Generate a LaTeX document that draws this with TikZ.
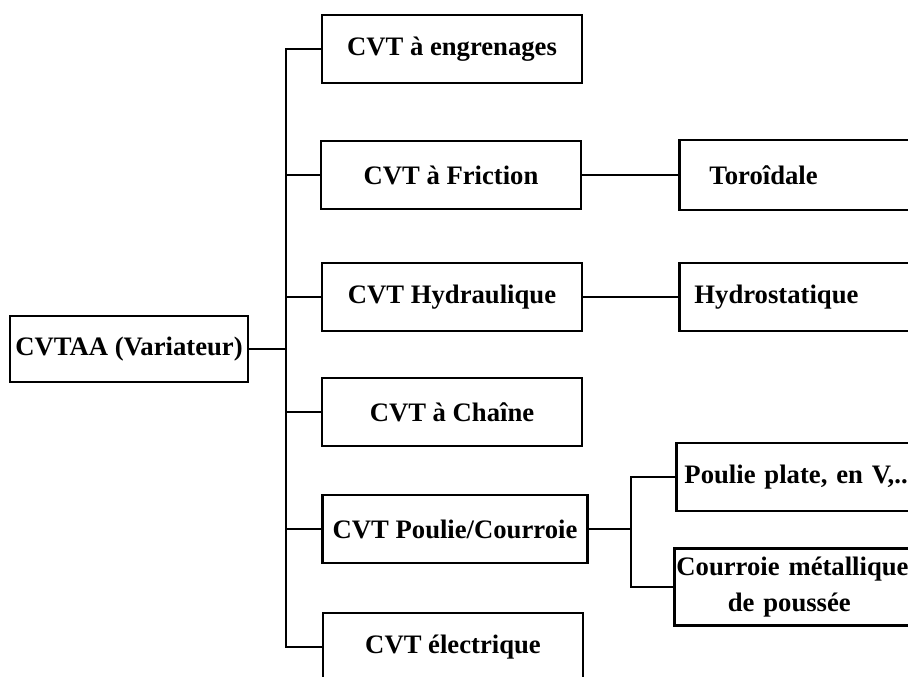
\documentclass[tikz,border=0pt]{standalone}
\usepackage{fontspec}
\setmainfont{Liberation Serif}
\usepackage{tikz}
\frenchspacing

\begin{document}
\begin{tikzpicture}[x=0.75pt,y=-0.75pt,line width=1.5pt,font=\bfseries\fontsize{20}{27}\selectfont,root node/.style={draw,line width=2.2pt,minimum width=178.5pt,minimum height=49.5pt,inner sep=0pt},main node/.style={draw,line width=2.2pt,minimum width=195pt,minimum height=51pt,inner sep=0pt},sub node/.style={draw,line width=2.2pt,anchor=west,minimum width=202.5pt,minimum height=51pt,text width=196.5pt,inner xsep=3pt,inner ysep=0pt,align=left}]
    \useasboundingbox (0,0) rectangle (908,677);
    \clip (0,0) rectangle (908,677);
    \node[root node] (0) at (129,349) {CVTAA (Variateur)};
    \node[main node] (1) at (452,49) {CVT à engrenages};
    \node[main node] (2) at (451,175) {CVT à Friction};
    \node[main node] (3) at (452,297) {CVT Hydraulique};
    \node[main node] (4) at (452,412) {CVT à Chaîne};
    \node[main node,minimum width=198.75pt] (5) at (455,529) {CVT Poulie/Courroie};
    \node[main node] (6) at (453,647) {CVT électrique};
    \node[sub node,minimum height=52.5pt] (7) at (678,175) {\hspace*{19.5pt}Toroîdale};
    \node[sub node] (8) at (678,297) {\hspace*{8.25pt}Hydrostatique};
    \node[sub node] (9) at (675,477) {\hspace*{3pt}Poulie plate, en V,..};
    \node[sub node,minimum height=57.75pt,inner xsep=1.5pt,text width=199.5pt] (10) at (673,587) {Courroie métallique\\\hspace*{38.5pt}de poussée};
    \draw (0.east) -- ++(37,0) coordinate (a);
    \draw (1.west) -| (a) |- (6.west);
    \foreach \n in {2,...,5}
      \draw (a |- \n.west) -- (\n.west);
    \draw (2.east) -- (7.west);
    \draw (3.east) -- (8.west);
    \draw (5.east) -- ++(42,0) coordinate (b);
    \draw (9.west) -| (b) |- (10.west);
  \end{tikzpicture}
\end{document}
